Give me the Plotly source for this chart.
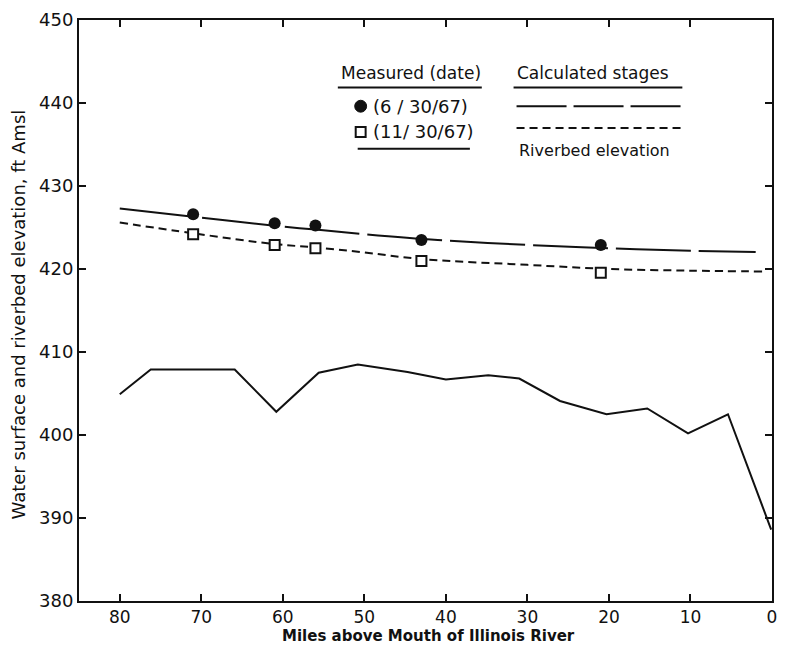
import plotly.graph_objects as go

# ---- data ----
calc_jun_x = [80, 71, 61, 56, 50, 41, 30, 20, 10, 2]
calc_jun_y = [427.3, 426.3, 425.2, 424.75, 424.2, 423.5, 422.9, 422.5, 422.2, 422.05]

calc_nov_x = [80, 71, 61, 56, 50, 43, 30, 20, 10, 1]
calc_nov_y = [425.6, 424.3, 423.0, 422.6, 422.0, 421.2, 420.5, 420.0, 419.8, 419.7]

meas_jun_x = [71, 61, 56, 43, 21]
meas_jun_y = [426.6, 425.5, 425.25, 423.5, 422.9]

meas_nov_x = [71, 61, 56, 43, 21]
meas_nov_y = [424.2, 422.9, 422.5, 420.95, 419.55]

river_x = [80, 76.2, 65.9, 60.8, 55.6, 50.8, 44.7, 40.0, 34.8, 31.0, 26.0, 20.3, 15.3, 10.3, 5.4, 0.1]
river_y = [404.9, 407.9, 407.9, 402.8, 407.5, 408.5, 407.6, 406.7, 407.2, 406.8, 404.1, 402.5, 403.2, 400.2, 402.5, 388.6]

x_ticks = [80, 70, 60, 50, 40, 30, 20, 10, 0]
y_ticks = [380, 390, 400, 410, 420, 430, 440, 450]

INK = "#111111"
FONT = "DejaVu Sans"

fig = go.Figure()

fig.add_trace(go.Scatter(x=river_x, y=river_y, mode="lines",
                         line=dict(color=INK, width=2), name="Riverbed elevation"))
fig.add_trace(go.Scatter(x=calc_jun_x, y=calc_jun_y, mode="lines", line_shape="spline",
                         line=dict(color=INK, width=2, dash="75px,8px"), name="Calculated 6/30/67"))
fig.add_trace(go.Scatter(x=calc_nov_x, y=calc_nov_y, mode="lines", line_shape="spline",
                         line=dict(color=INK, width=2, dash="8px,5px"), name="Calculated 11/30/67"))
fig.add_trace(go.Scatter(x=meas_jun_x, y=meas_jun_y, mode="markers",
                         marker=dict(symbol="circle", size=12, color=INK), name="(6 / 30/67)"))
fig.add_trace(go.Scatter(x=meas_nov_x, y=meas_nov_y, mode="markers",
                         marker=dict(symbol="square", size=10, color="white",
                                     line=dict(color=INK, width=2)), name="(11/ 30/67)"))

# ---- hand-built legend (paper coordinates) ----
L, R, T, B = 79.3, 777.3, 15.0, 601.3
W, H = R - L, B - T


def px(xp):
    return (xp - L) / W


def py(yp):
    return (B - yp) / H


shapes = []
annots = []

annots.append(dict(x=px(414), y=py(68), xref="paper", yref="paper", text="Measured (date)",
                   showarrow=False, font=dict(family=FONT, size=17, color=INK), xanchor="center", yanchor="middle"))
shapes.append(dict(type="line", xref="paper", yref="paper", x0=px(340), x1=px(485), y0=py(83), y1=py(83),
                   line=dict(color=INK, width=2)))
shapes.append(dict(type="circle", xref="paper", yref="paper", x0=px(357), x1=px(369), y0=py(108), y1=py(96),
                   fillcolor=INK, line=dict(color=INK, width=1)))
annots.append(dict(x=px(373), y=py(102), xref="paper", yref="paper", text="(6 / 30/67)",
                   showarrow=False, font=dict(family=FONT, size=18, color=INK), xanchor="left", yanchor="middle"))
shapes.append(dict(type="rect", xref="paper", yref="paper", x0=px(358), x1=px(368), y0=py(133), y1=py(123),
                   fillcolor="white", line=dict(color=INK, width=2)))
annots.append(dict(x=px(373), y=py(128), xref="paper", yref="paper", text="(11/ 30/67)",
                   showarrow=False, font=dict(family=FONT, size=18, color=INK), xanchor="left", yanchor="middle"))
shapes.append(dict(type="line", xref="paper", yref="paper", x0=px(360), x1=px(473), y0=py(145), y1=py(145),
                   line=dict(color=INK, width=2)))

annots.append(dict(x=px(597), y=py(68), xref="paper", yref="paper", text="Calculated stages",
                   showarrow=False, font=dict(family=FONT, size=17, color=INK), xanchor="center", yanchor="middle"))
shapes.append(dict(type="line", xref="paper", yref="paper", x0=px(517), x1=px(687), y0=py(83), y1=py(83),
                   line=dict(color=INK, width=2)))
shapes.append(dict(type="line", xref="paper", yref="paper", x0=px(520), x1=px(687), y0=py(102), y1=py(102),
                   line=dict(color=INK, width=2, dash="50px,7px")))
shapes.append(dict(type="line", xref="paper", yref="paper", x0=px(520), x1=px(687), y0=py(124), y1=py(124),
                   line=dict(color=INK, width=2, dash="8px,5px")))
annots.append(dict(x=px(520), y=py(147), xref="paper", yref="paper", text="Riverbed elevation",
                   showarrow=False, font=dict(family=FONT, size=16, color=INK), xanchor="left", yanchor="middle"))

# axis titles
annots.append(dict(x=px(18), y=py(312), xref="paper", yref="paper",
                   text="Water surface and riverbed elevation, ft Amsl", textangle=-90,
                   showarrow=False, font=dict(family=FONT, size=18, color=INK), xanchor="center", yanchor="middle"))
annots.append(dict(x=px(431), y=py(637), xref="paper", yref="paper",
                   text="<b>Miles above Mouth of Illinois River</b>",
                   showarrow=False, font=dict(family=FONT, size=15, color=INK), xanchor="center", yanchor="middle"))

fig.update_layout(
    width=786, height=650,
    margin=dict(l=79, r=9, t=15, b=49),
    paper_bgcolor="white", plot_bgcolor="white",
    showlegend=False,
    shapes=shapes, annotations=annots,
    font=dict(family=FONT, color=INK),
)
fig.update_xaxes(range=[85, 0], tickvals=x_ticks, ticks="inside", ticklen=7, tickwidth=2, tickcolor=INK,
                 showline=True, linecolor=INK, linewidth=2, mirror="ticks", showgrid=False, zeroline=False,
                 tickfont=dict(family=FONT, size=17, color=INK))
fig.update_yaxes(range=[380, 450], tickvals=y_ticks, ticks="inside", ticklen=7, tickwidth=2, tickcolor=INK,
                 showline=True, linecolor=INK, linewidth=2, mirror="ticks", showgrid=False, zeroline=False,
                 tickfont=dict(family=FONT, size=18, color=INK))

fig.write_html("out.html")
